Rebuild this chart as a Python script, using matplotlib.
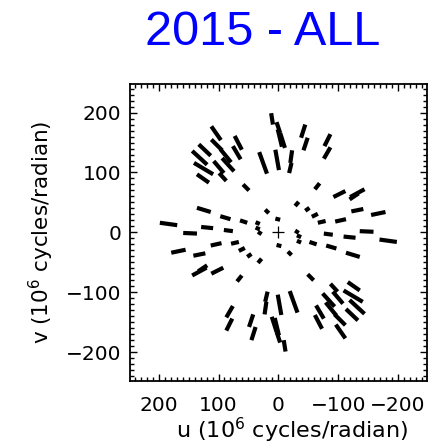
import numpy as np
import matplotlib.pyplot as plt
from matplotlib.ticker import MultipleLocator

# uv tracks (10^6 cycles/radian), one half of the plane; the conjugate half is (-u, -v)
u_start = [112, 112, 97, 73, 76, 133, 144, 141, 136, 108, 99, 94, 59,
           12, 3, -3, 1, 32, 5, -23, -22, -45, -49, -87, -87,
           -69, -112, -144, -134, -34, -52, -66, -79, -113, -142, -179,
           136, 97, 64, 38, 22, 198, 129, 91, 159, 38, 34, 5]
v_start = [177, 155, 139, 161, 144, 147, 136, 116, 97, 119, 99, 124, 80,
           199, 184, 166, 172, 134, 138, 137, 116, 180, 158, 164, 142,
           82, 69, 72, 65, 51, 41, 31, 19, 22, 39, 34,
           41, 27, 20, 17, 38, 16, 9, 4, -1, 8, 1, 23]
u_end = [96, 94, 79, 61, 63, 113, 119, 109, 116, 91, 87, 74, 49,
         9, -3, -11, -6, 19, -1, -20, -18, -38, -42, -77, -76,
         -61, -92, -120, -119, -28, -45, -56, -66, -95, -122, -155,
         113, 80, 52, 31, 16, 169, 109, 76, 136, 31, 28, -3]
v_end = [154, 137, 117, 138, 122, 128, 113, 97, 83, 99, 86, 102, 70,
         180, 166, 141, 143, 98, 104, 116, 99, 158, 137, 144, 123,
         72, 59, 59, 55, 44, 36, 26, 16, 18, 35, 29,
         34, 22, 16, 14, 32, 12, 7, 2, -2, 5, -3, 21]

fig = plt.figure(figsize=(4.45, 4.46), dpi=100)
ax = fig.add_axes([0.292, 0.146, 0.667, 0.666])

for u0, v0, u1, v1 in zip(u_start, v_start, u_end, v_end):
    ax.plot([u0, u1], [v0, v1], color='black', lw=3.0, solid_capstyle='butt')
    ax.plot([-u0, -u1], [-v0, -v1], color='black', lw=3.0, solid_capstyle='butt')

# origin marker
ax.plot([0], [0], marker='+', color='black', ms=9, mew=0.9)

ax.set_xlim(248, -248)
ax.set_ylim(-248, 248)
ax.set_xticks([200, 100, 0, -100, -200])
ax.set_yticks([-200, -100, 0, 100, 200])
ax.xaxis.set_minor_locator(MultipleLocator(10))
ax.yaxis.set_minor_locator(MultipleLocator(10))
ax.tick_params(which='both', direction='in', top=True, right=True, width=1)
ax.tick_params(which='major', length=5, labelsize=14.5)
ax.tick_params(axis='y', which='major', pad=6)
ax.tick_params(axis='x', which='major', pad=11)
ax.tick_params(which='minor', length=3)
for s in ax.spines.values():
    s.set_linewidth(1.3)

ax.set_xlabel(r'u (10$^6$ cycles/radian)', fontsize=16)
ax.xaxis.set_label_coords(0.545, -0.116)
ax.set_ylabel(r'v (10$^6$ cycles/radian)', fontsize=15.5, labelpad=7)
fig.text(0.59, 0.927, '2015 - ALL', color='blue', fontsize=35,
         family='Liberation Sans', ha='center', va='center')

plt.savefig('out.png', dpi=100)
